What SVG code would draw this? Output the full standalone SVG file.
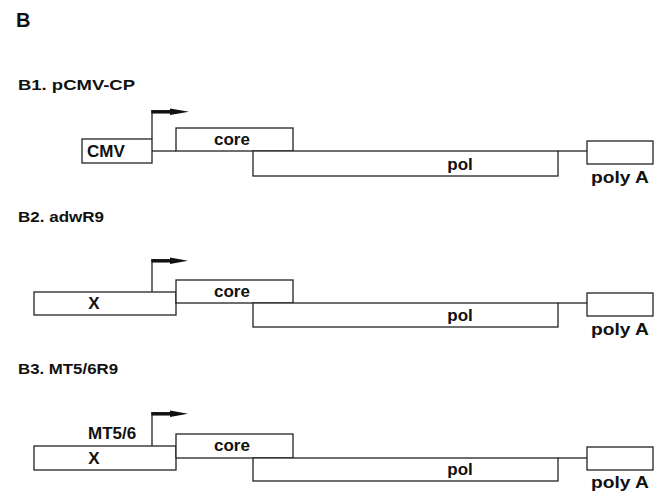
<svg xmlns="http://www.w3.org/2000/svg" width="661" height="491" viewBox="0 0 661 491">
<style>
.box{fill:#fff;stroke:#222;stroke-width:1.3}
.ln{fill:none;stroke:#222;stroke-width:1.3}
.bar{fill:none;stroke:#111;stroke-width:3.5}
.head{fill:#111}
.t{font-family:"Liberation Sans",Arial,sans-serif;font-weight:bold;fill:#111}
.lbl{font-size:17px}
.ttl{font-size:15px}
.mid{text-anchor:middle}
</style>
<rect width="661" height="491" fill="#fff"/>
<text class="t" x="16" y="27" font-size="20">B</text>
<text class="t ttl" x="18" y="90" textLength="117" lengthAdjust="spacingAndGlyphs">B1.  pCMV-CP</text>
<text class="t ttl" x="18" y="222" textLength="86" lengthAdjust="spacingAndGlyphs">B2. adwR9</text>
<text class="t ttl" x="18" y="374" textLength="100" lengthAdjust="spacingAndGlyphs">B3. MT5/6R9</text>

<g id="connectors">
<path class="ln" d="M152,151 H176"/>
<path class="ln" d="M558,151 H587"/>
<path class="ln" d="M558,303 H587"/>
<path class="ln" d="M558,458 H587"/>
<path class="ln" d="M152,139 V110"/>
<path class="bar" d="M151.4,111.8 H172"/>
<path class="head" d="M170,108.6 L189,111.8 L170,115 Z"/>
<path class="ln" d="M152,292 V259"/>
<path class="bar" d="M151.4,260.8 H172"/>
<path class="head" d="M170,257.6 L188,260.8 L170,264 Z"/>
<path class="ln" d="M152,446 V412"/>
<path class="bar" d="M151.4,413.8 H172"/>
<path class="head" d="M170,410.6 L188,413.8 L170,417 Z"/>
</g>

<g id="b1-cmv"><rect class="box" x="82" y="139" width="70" height="24"/><text class="t lbl" x="87" y="157">CMV</text></g>
<g id="b1-core"><rect class="box" x="176" y="128" width="117" height="23"/><text class="t lbl mid" x="232" y="145">core</text></g>
<g id="b1-pol"><rect class="box" x="253" y="151" width="305" height="25"/><text class="t lbl mid" x="460" y="170">pol</text></g>
<g id="b1-polyA"><rect class="box" x="587" y="141" width="66" height="23"/><text class="t lbl mid" x="620" y="183" textLength="58" lengthAdjust="spacingAndGlyphs">poly A</text></g>

<g id="b2-x"><rect class="box" x="34" y="292" width="142" height="23"/><text class="t lbl mid" x="94" y="309">X</text></g>
<g id="b2-core"><rect class="box" x="176" y="280" width="117" height="23"/><text class="t lbl mid" x="232" y="297">core</text></g>
<g id="b2-pol"><rect class="box" x="253" y="303" width="305" height="24"/><text class="t lbl mid" x="460" y="321">pol</text></g>
<g id="b2-polyA"><rect class="box" x="587" y="293" width="66" height="23"/><text class="t lbl mid" x="620" y="335" textLength="58" lengthAdjust="spacingAndGlyphs">poly A</text></g>

<g id="b3-x"><rect class="box" x="34" y="446" width="142" height="24"/><text class="t lbl mid" x="94" y="464">X</text><text class="t lbl" x="88" y="439">MT5/6</text></g>
<g id="b3-core"><rect class="box" x="176" y="434" width="117" height="24"/><text class="t lbl mid" x="232" y="451">core</text></g>
<g id="b3-pol"><rect class="box" x="253" y="458" width="305" height="23"/><text class="t lbl mid" x="460" y="475">pol</text></g>
<g id="b3-polyA"><rect class="box" x="587" y="447" width="66" height="23"/><text class="t lbl mid" x="620" y="488" textLength="58" lengthAdjust="spacingAndGlyphs">poly A</text></g>
</svg>
